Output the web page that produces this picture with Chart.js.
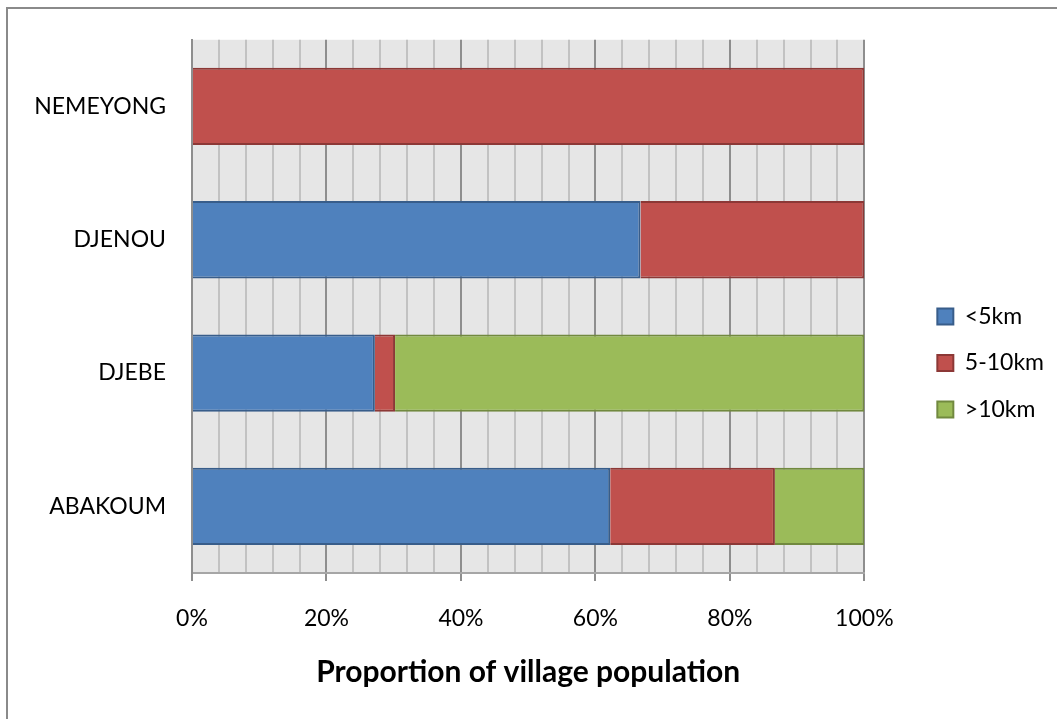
<!DOCTYPE html>
<html>
<head>
<meta charset="utf-8">
<script src="https://cdn.jsdelivr.net/npm/chart.js@4"></script>
<style>
  html, body { margin: 0; padding: 0; background: #ffffff; }
  #wrap { position: relative; width: 1057px; height: 719px; }
</style>
</head>
<body>
<div id="wrap"><canvas id="chart" width="1057" height="719"></canvas></div>
<script>
// Villages and share of population by distance band (percent of village)
const villages = ['NEMEYONG', 'DJENOU', 'DJEBE', 'ABAKOUM'];
const under5km = [0, 66.7, 27.2, 62.2];
const from5to10km = [100, 33.3, 3.0, 24.5];
const over10km = [0, 0, 69.8, 13.3];
const seriesNames = ['<5km', '5-10km', '>10km'];
const axisTitle = 'Proportion of village population';

const FONT = 'Lato, "Open Sans", sans-serif';

// Grey plot background and the partial outer frame
const backdrop = {
  id: 'backdrop',
  beforeDraw(chart) {
    const { ctx, chartArea: a } = chart;
    ctx.save();
    ctx.fillStyle = '#e6e6e6';
    ctx.fillRect(a.left, a.top, a.right - a.left, a.bottom - a.top);
    ctx.restore();
  },
  afterDraw(chart) {
    const { ctx, width, height } = chart;
    ctx.save();
    ctx.strokeStyle = '#8a8a8a';
    ctx.lineWidth = 2;
    ctx.beginPath();
    ctx.moveTo(7, height + 2);
    ctx.lineTo(7, 8);
    ctx.lineTo(width + 2, 8);
    ctx.stroke();
    ctx.restore();
  }
};

new Chart(document.getElementById('chart'), {
  type: 'bar',
  data: {
    labels: villages,
    datasets: [
      { label: seriesNames[0], data: under5km, backgroundColor: '#4f81bd', borderColor: '#385d8a', borderWidth: 2 },
      { label: seriesNames[1], data: from5to10km, backgroundColor: '#c0504d', borderColor: '#8c3836', borderWidth: 2 },
      { label: seriesNames[2], data: over10km, backgroundColor: '#9bbb59', borderColor: '#71893f', borderWidth: 2 }
    ]
  },
  plugins: [backdrop],
  options: {
    indexAxis: 'y',
    responsive: false,
    animation: false,
    datasets: { bar: { barPercentage: 0.58, categoryPercentage: 1 } },
    layout: { padding: { top: 32, bottom: 25, left: 10, right: 3 } },
    plugins: {
      tooltip: { enabled: false },
      legend: {
        position: 'right',
        align: 'center',
        labels: {
          font: { family: FONT, size: 23 },
          color: '#000000',
          boxWidth: 16,
          boxHeight: 16,
          padding: 23.5
        }
      }
    },
    scales: {
      x: {
        type: 'linear',
        stacked: true,
        min: 0,
        max: 100,
        afterFit: s => { s.height = 121; },
        ticks: {
          stepSize: 4,
          autoSkip: false,
          maxRotation: 0,
          padding: 24,
          color: '#000000',
          font: { family: FONT, size: 23 },
          callback: v => (v % 20 === 0 ? v + '%' : '')
        },
        grid: {
          lineWidth: 2,
          tickLength: 8,
          color: c => (c.tick && c.tick.value % 20 === 0 ? '#8e8e8e' : '#c2c2c2'),
          tickColor: c => (c.tick && c.tick.value % 20 === 0 ? '#8e8e8e' : 'rgba(0,0,0,0)')
        },
        border: { color: '#a6a6a6', width: 2 },
        title: {
          display: true,
          text: axisTitle,
          color: '#000000',
          font: { family: FONT, size: 30, weight: 'bold' },
          padding: { top: 0, bottom: 4 }
        }
      },
      y: {
        stacked: true,
        afterFit: s => { s.width = 182; },
        ticks: {
          padding: 26,
          color: '#000000',
          font: { family: FONT, size: 23 }
        },
        grid: { display: false, drawTicks: false },
        border: { display: true, color: '#8e8e8e', width: 2 }
      },
      // spacer between the plot and the legend
      gap: {
        type: 'linear',
        position: 'right',
        display: true,
        afterFit: s => { s.width = 49.5; },
        ticks: { display: false },
        grid: { display: false, drawTicks: false },
        border: { display: false }
      }
    }
  }
});
</script>
</body>
</html>
